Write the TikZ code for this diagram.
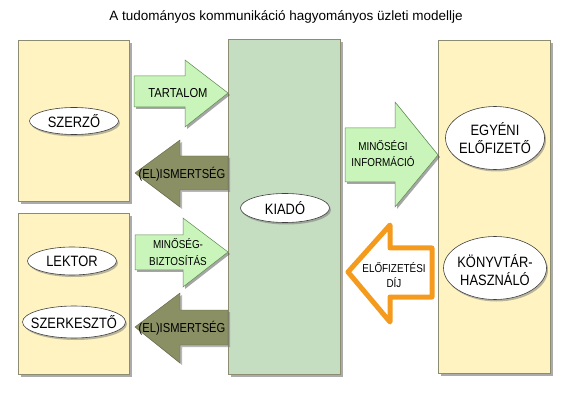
\documentclass[tikz,border=0pt]{standalone}
\usepackage{fontspec}
\setmainfont{Liberation Sans}
\newfontfamily\narrowsf[FakeStretch=0.86]{Liberation Sans}
\usetikzlibrary{shadows,shapes.geometric}
\definecolor{boxyellow}{HTML}{FFF4C1}
\definecolor{boxgreen}{HTML}{C5DDC1}
\definecolor{arrgreen}{HTML}{C9F5BA}
\definecolor{arrgreenline}{HTML}{5E8A50}
\definecolor{olive}{HTML}{8A9063}
\definecolor{orangeline}{HTML}{F49B1E}
\definecolor{boxline}{HTML}{8C8C70}
\pgfdeclareradialshading{actorshade}{\pgfpoint{-8bp}{8bp}}{color(0bp)=(white); color(28bp)=(white); color(40bp)=(black!12); color(50bp)=(black!30)}
\tikzset{
  panel/.style={draw=boxline, line width=0.6pt, drop shadow={shadow xshift=3pt, shadow yshift=-3pt, fill=black!65}},
  yellowpanel/.style={panel, fill=boxyellow},
  greenpanel/.style={panel, fill=boxgreen},
  actorbg/.style={draw=black!75, line width=0.6pt, shading=actorshade,
     drop shadow={shadow xshift=1.5pt, shadow yshift=-2pt, fill=black!55}},
  actor/.style={inner sep=0pt, font=\narrowsf\fontsize{15}{18.5}\selectfont, align=center},
  greenarrow/.style={fill=arrgreen, draw=arrgreenline, line width=0.5pt, line join=miter,
     drop shadow={shadow xshift=2pt, shadow yshift=-2pt, fill=black!70}},
  olivearrow/.style={fill=olive, draw=olive!70!black, line width=0.4pt,
     drop shadow={shadow xshift=2pt, shadow yshift=-2pt, fill=black!55}},
  payarrow/.style={fill=white, draw=orangeline, line width=5pt, line join=round},
  arrlabel/.style={font=\narrowsf\fontsize{13}{14}\selectfont, align=center, inner sep=0pt},
  smalllabel/.style={font=\narrowsf\fontsize{11}{13}\selectfont, align=center, inner sep=0pt},
  titletext/.style={font=\fontsize{13.5}{16}\selectfont, inner sep=0pt}
}
\begin{document}
\begin{tikzpicture}[x=1pt,y=-1pt]
\useasboundingbox[fill=white] (0,0) rectangle (570,403);
\node[titletext] (title) at (286,17) {A tudományos kommunikáció hagyományos üzleti modellje};
% panels
\path[yellowpanel] (18,40) rectangle (129,201);
\path[yellowpanel] (18,213) rectangle (129,374);
\path[greenpanel] (228,39) rectangle (340,374);
\path[yellowpanel] (438,40) rectangle (550,373);
% arrows
\path[greenarrow] (134,76) -- (185,76) -- (185,60) -- (228,93) -- (185,127) -- (185,107) -- (134,107) -- cycle;
\path[olivearrow] (228,156) -- (180,156) -- (180,140) -- (135,173) -- (180,207) -- (180,190) -- (228,190) -- cycle;
\path[greenarrow] (135,235) -- (183,235) -- (183,218) -- (228,252) -- (183,287) -- (183,270) -- (135,270) -- cycle;
\path[olivearrow] (228,310) -- (180,310) -- (180,293) -- (135,327) -- (180,363) -- (180,345) -- (228,345) -- cycle;
\path[greenarrow] (345,128) -- (395,128) -- (395,102) -- (438,155) -- (395,207) -- (395,182) -- (345,182) -- cycle;
\path[payarrow] (432,248) -- (390,248) -- (390,225) -- (348,272) -- (390,322) -- (390,297) -- (432,297) -- cycle;
% arrow labels
\node[arrlabel] (tartalom) at (178,93) {TARTALOM};
\node[arrlabel] (elism1) at (182,174) {(EL)ISMERTSÉG};
\node[smalllabel, font=\narrowsf\fontsize{11.5}{17}\selectfont] (minbizt) at (178,252) {MINŐSÉG-\\BIZTOSÍTÁS};
\node[arrlabel] (elism2) at (182,328) {(EL)ISMERTSÉG};
\node[smalllabel, font=\narrowsf\fontsize{11.5}{16}\selectfont] (mininf) at (383,154) {MINŐSÉGI\\INFORMÁCIÓ};
\node[smalllabel, font=\narrowsf\fontsize{11.5}{15}\selectfont] (dij) at (394,275) {ELŐFIZETÉSI\\DÍJ};
% actors
\path[actorbg] (74,121) ellipse [x radius=44.5pt, y radius=13.5pt];
\node[actor] (szerzo) at (74,121) {SZERZŐ};
\path[actorbg] (72,261) ellipse [x radius=44.5pt, y radius=14pt];
\node[actor] (lektor) at (72,261) {LEKTOR};
\path[actorbg] (74,322) ellipse [x radius=51.5pt, y radius=16pt];
\node[actor] (szerk) at (74,322) {SZERKESZTŐ};
\path[actorbg] (285,208) ellipse [x radius=44.5pt, y radius=14.5pt];
\node[actor] (kiado) at (285,208) {KIADÓ};
\path[actorbg] (495,138) ellipse [x radius=49.5pt, y radius=31.5pt];
\node[actor] (egyeni) at (495,138) {EGYÉNI\\ELŐFIZETŐ};
\path[actorbg] (495,268) ellipse [x radius=51.5pt, y radius=31.5pt];
\node[actor] (konyvtar) at (495,270) {KÖNYVTÁR-\\HASZNÁLÓ};
\end{tikzpicture}
\end{document}
